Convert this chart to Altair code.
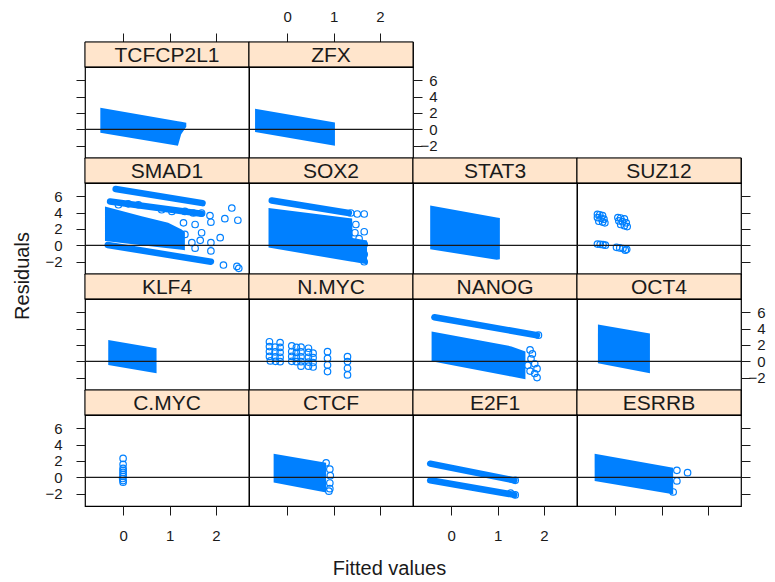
import altair as alt
import pandas as pd

FONT = "Liberation Sans"
BLUE = "#0080ff"
STRIP_BG = "#ffe5cc"
INK = "#1a1a1a"

LAYOUT = [
    ["TCFCP2L1", "ZFX", None, None],
    ["SMAD1", "SOX2", "STAT3", "SUZ12"],
    ["KLF4", "N.MYC", "NANOG", "OCT4"],
    ["C.MYC", "CTCF", "E2F1", "ESRRB"],
]
X_DOMAIN = [-0.82, 2.71]
Y_DOMAIN = [-3.52, 7.64]
X_TICKS = [0, 1, 2]
Y_TICKS = [-2, 0, 2, 4, 6]

# dense regions of overlapping points (outline)
BLOB_PANEL = (["TCFCP2L1"] * 4 + ["ZFX"] * 2 + ["SMAD1"] * 5 + ["SOX2"] * 4 + ["STAT3"] * 3
              + ["KLF4"] * 2 + ["NANOG"] * 3 + ["OCT4"] * 2 + ["CTCF"] * 2 + ["ESRRB"] * 2)
BLOB_X = [-0.49, 1.18, 1.25, 1.36,
          -0.69, 1.03,
          -0.39, 0.40, 0.97, 1.26, 1.33,
          -0.40, 1.40, 1.41, 1.72,
          -0.45, 0.98, 1.05,
          -0.32, 0.72,
          -0.42, 1.30, 1.60,
          -0.37, 0.75,
          -0.29, 0.84,
          -0.44, 1.25]
BLOB_TOP = [2.64, 0.99, 0.92, 0.81,
            2.52, 0.82,
            4.75, 3.56, 2.75, 1.94, 1.60,
            4.57, 3.30, 0.90, 0.60,
            4.88, 3.42, 3.36,
            2.60, 1.59,
            3.66, 1.83, 1.20,
            4.51, 3.41,
            2.89, 1.77,
            2.89, 1.18]
BLOB_BOTTOM = [-0.41, -2.03, -0.60, 0.30,
               -0.33, -2.03,
               0.52, 0.00, -0.36, -0.55, -0.60,
               -0.28, -2.02, -2.03, -2.33,
               -0.48, -1.78, -1.70,
               -0.45, -1.46,
               0.00, -1.87, -2.20,
               -0.24, -1.46,
               -0.65, -1.85,
               -0.45, -2.07]

# single rows of overlapping points (start and end of each row)
BAND_PANEL = ["SMAD1", "SMAD1", "SMAD1", "SOX2", "NANOG", "E2F1", "E2F1"]
BAND_X0 = [-0.16, -0.28, -0.33, -0.33, -0.36, -0.45, -0.45]
BAND_Y0 = [6.91, 5.37, 0.04, 5.50, 5.40, 1.67, -0.37]
BAND_X1 = [1.71, 1.69, 1.89, 1.33, 1.85, 1.36, 1.36]
BAND_Y1 = [5.17, 3.88, -2.02, 3.96, 3.20, -0.37, -2.16]

# individually visible points
PT_PANEL = (["SMAD1"] * 26 + ["SOX2"] * 10 + ["NANOG"] * 10 + ["CTCF"] * 6 + ["ESRRB"] * 4
            + ["E2F1"] * 3 + ["C.MYC"] * 10 + ["N.MYC"] * 44 + ["SUZ12"] * 27)
PT_X = [2.34, 2.19, 2.47, 1.87, 1.89, 1.69, 1.51, 1.33, 1.30, 1.55, 1.69, 1.33, 2.09,
        1.66, 1.89, 1.55, 1.89, 1.48, 2.16, 2.45, 2.49, -0.10, 0.11, 0.33, 0.83, 1.05,
        1.37, 1.51, 1.66, 1.48, 1.66, 1.46, 1.55, 1.66, 1.66, 1.66,
        1.70, 1.75, 1.72, 1.80, 1.85, 1.80, 1.85, 1.65, 1.70, 1.88,
        0.92, 0.93, 0.92, 0.92, 0.90, 0.84,
        1.33, 1.56, 1.33, 1.25,
        1.38, 1.28, 1.38,
        0.00, 0.00, 0.00, 0.00, 0.00, 0.00, 0.00, -0.01, 0.00, 0.00,
        -0.38, -0.15, -0.38, -0.26, -0.15, -0.38, -0.26, -0.15, -0.38, -0.26, -0.15,
        -0.36, -0.25, -0.15,
        0.10, 0.20, 0.30, 0.46, 0.10, 0.20, 0.30, 0.46, 0.56, 0.10, 0.20, 0.30, 0.46,
        0.56, 0.10, 0.20, 0.30, 0.46, 0.56, 0.30, 0.46, 0.56,
        0.87, 0.87, 0.87, 0.87, 1.30, 1.30, 1.30, 1.30,
        -0.38, -0.33, -0.27, -0.38, -0.30, -0.24, -0.35, -0.27, -0.22,
        0.06, 0.12, 0.20, 0.08, 0.16, 0.24, 0.12, 0.20, 0.26,
        -0.38, -0.32, -0.26, -0.21,
        0.03, 0.10, 0.17, 0.25, 0.22]
PT_Y = [4.57, 3.27, 3.07, 3.64, 2.83, 3.96, 3.96, 4.16, 2.75, 2.55, 1.54, 1.33, 0.93,
        0.61, 0.32, -0.36, -0.69, 0.32, -2.42, -2.59, -2.83, 4.97, 5.09, 4.97, 4.36, 4.16,
        3.96, 3.84, 3.84, 2.55, 1.66, 1.54, 0.81, 0.12, -1.10, -2.02,
        1.40, 0.90, 0.30, -0.30, -0.90, -1.50, -2.00, -0.50, -1.20, 3.20,
        1.00, 0.20, -0.70, -1.40, -1.70, 1.77,
        0.85, 0.57, -0.45, -1.80,
        -0.37, -1.95, -2.16,
        2.32, 1.59, 1.10, 0.85, 0.60, 0.35, 0.10, -0.15, -0.40, -0.60,
        2.40, 2.30, 1.80, 1.75, 1.70, 1.20, 1.15, 1.10, 0.60, 0.55, 0.50,
        0.05, 0.00, -0.05,
        1.90, 1.70, 1.75, 1.60, 1.20, 1.10, 1.15, 1.10, 1.00, 0.60, 0.50, 0.55, 0.50,
        0.45, 0.00, -0.05, -0.05, -0.10, -0.15, -0.60, -0.60, -0.70,
        1.18, 0.37, -0.45, -1.26, 0.57, -0.04, -0.85, -1.67,
        3.80, 3.75, 3.65, 3.40, 3.30, 3.20, 2.95, 2.85, 2.75,
        3.40, 3.35, 3.25, 3.00, 2.90, 2.75, 2.55, 2.40, 2.30,
        0.15, 0.12, 0.08, 0.02,
        -0.25, -0.32, -0.40, -0.50, -0.60]

blobs = pd.DataFrame({"panel": BLOB_PANEL, "x": BLOB_X, "top": BLOB_TOP, "bottom": BLOB_BOTTOM})
band_rows = []
for i, p in enumerate(BAND_PANEL):
    band_rows.append({"panel": p, "band": i, "x": BAND_X0[i], "y": BAND_Y0[i]})
    band_rows.append({"panel": p, "band": i, "x": BAND_X1[i], "y": BAND_Y1[i]})
bands = pd.DataFrame(band_rows)
points = pd.DataFrame({"panel": PT_PANEL, "x": PT_X, "y": PT_Y})

W, S, H = 164, 25, 91
XS = alt.Scale(domain=X_DOMAIN, nice=False, zero=False)
YS = alt.Scale(domain=Y_DOMAIN, nice=False, zero=False)


def axis(orient, labels, pad):
    kw = dict(orient=orient, values=X_TICKS if orient in ("top", "bottom") else Y_TICKS,
              labels=labels, ticks=True, tickSize=9, tickColor=INK, tickWidth=1,
              domain=False, grid=False, title=None, labelFont=FONT, labelFontSize=15,
              labelColor=INK, labelPadding=pad, labelOverlap=False, labelFlush=False)
    if orient == "right":
        kw["labelAlign"] = "right"
    return alt.Axis(**kw)


def strip(name, top_axis):
    base = alt.Chart(pd.DataFrame({"panel": [name]}))
    rect = base.mark_rect(fill=STRIP_BG, stroke="black", strokeWidth=1).encode(
        x=alt.value(0), x2=alt.value(W), y=alt.value(0), y2=alt.value(S))
    text = base.mark_text(font=FONT, fontSize=21, color=INK, baseline="middle").encode(
        x=alt.value(W / 2), y=alt.value(S / 2 + 1), text="panel:N")
    layers = [rect, text]
    if top_axis is not None:
        layers.append(alt.Chart(pd.DataFrame({"v": X_TICKS})).mark_point(opacity=0).encode(
            x=alt.X("v:Q", scale=XS, axis=top_axis), y=alt.value(0)))
    return alt.layer(*layers).properties(width=W, height=S)


def plot(name, xaxis, yaxis):
    layers = []
    b = blobs[blobs.panel == name]
    if len(b):
        layers.append(alt.Chart(b).mark_area(color=BLUE, opacity=1).encode(
            x=alt.X("x:Q", scale=XS, axis=xaxis), y=alt.Y("top:Q", scale=YS, axis=yaxis),
            y2="bottom:Q"))
    bd = bands[bands.panel == name]
    if len(bd):
        layers.append(alt.Chart(bd).mark_line(color=BLUE, strokeWidth=6.5, strokeCap="round").encode(
            x=alt.X("x:Q", scale=XS, axis=xaxis), y=alt.Y("y:Q", scale=YS, axis=yaxis),
            detail="band:N"))
    pt = points[points.panel == name]
    if len(pt):
        layers.append(alt.Chart(pt).mark_point(shape="circle", filled=False, size=42,
                                               strokeWidth=1.2, color=BLUE, opacity=1).encode(
            x=alt.X("x:Q", scale=XS, axis=xaxis), y=alt.Y("y:Q", scale=YS, axis=yaxis)))
    layers.append(alt.Chart(pd.DataFrame({"h": [0]})).mark_rule(color=INK, strokeWidth=1.3).encode(
        y=alt.Y("h:Q", scale=YS, axis=yaxis)))
    return alt.layer(*layers).properties(width=W, height=H)


def blank(h):
    return alt.Chart(pd.DataFrame({"v": [0]})).mark_point(opacity=0).encode(
        x=alt.value(0), y=alt.value(0)).properties(width=W, height=h,
                                                   view=alt.ViewBackground(stroke=None))


cells = []
for r, row in enumerate(LAYOUT):
    strips, plots = [], []
    last = max(i for i, n in enumerate(row) if n is not None)
    for c, name in enumerate(row):
        if name is None:
            strips.append(blank(S))
            plots.append(blank(H))
            continue
        top_axis = axis("top", c == 1, 9) if r == 0 else None
        xaxis = axis("bottom", c in (0, 2), 13) if r == len(LAYOUT) - 1 else None
        yaxis = None
        if c == 0:
            yaxis = axis("left", r in (1, 3), 14)
        elif c == last:
            yaxis = axis("right", r in (0, 2), 15)
        strips.append(strip(name, top_axis))
        plots.append(plot(name, xaxis, yaxis))
    cells.extend(strips)
    cells.extend(plots)

grid = alt.concat(*cells, columns=4, spacing=0, bounds="flush", align="each",
                  title=alt.TitleParams("Residuals", orient="left", anchor="middle", font=FONT,
                                        fontSize=20, fontWeight="normal", color=INK, offset=11))
chart = alt.vconcat(grid, spacing=0,
                    title=alt.TitleParams("Fitted values", orient="bottom", anchor="middle",
                                          font=FONT, fontSize=20, fontWeight="normal",
                                          color=INK, offset=15)
                    ).properties(padding={"left": 5, "top": 0, "right": 0, "bottom": 5}
                    ).configure_view(stroke="black", strokeWidth=1.2)

chart.save("out.html", embed_options={"renderer": "svg", "actions": False})
